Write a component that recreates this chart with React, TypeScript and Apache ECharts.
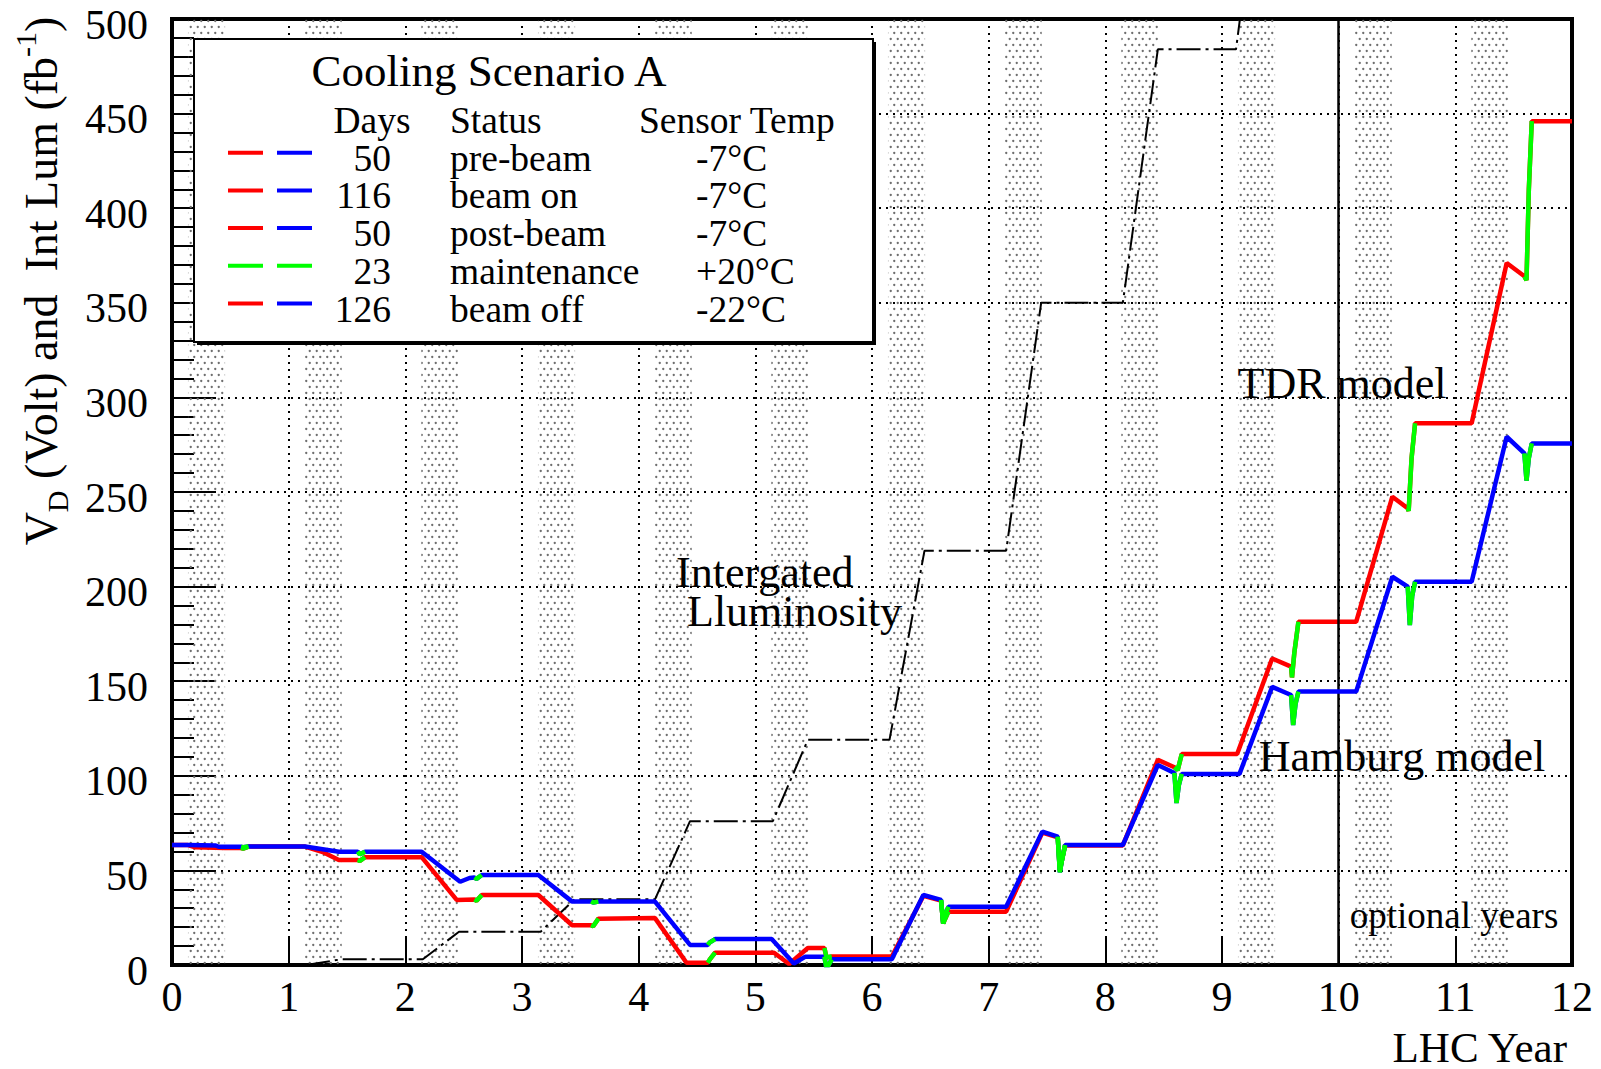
import React, { useEffect, useRef } from "react";
import * as echarts from "echarts";

const FONT = "'Liberation Serif', 'Times New Roman', serif";
const RED = "#ff0000";
const BLUE = "#0000ff";
const GREEN = "#00ff00";

// yearly LHC cycle, as listed in the legend
const phaseDays = [50, 116, 50, 23, 126];
const phaseStatus = ["pre-beam", "beam on", "post-beam", "maintenance", "beam off"];
const phaseTemp = ["-7°C", "-7°C", "-7°C", "+20°C", "-22°C"];
const phaseColorTdr = [RED, RED, RED, GREEN, RED];
const phaseColorHamburg = [BLUE, BLUE, BLUE, GREEN, BLUE];

const lhcYears = [0, 1, 2, 3, 4, 5, 6, 7, 8, 9, 10, 11];
const optionalYearStart = 10;

// depletion voltage, TDR model
const tdrModel: [number, number][] = [
  [0, 63.4], [0.137, 63.4], [0.2, 62.2], [0.455, 61.8], [0.592, 61.8], [0.61, 61.5], [0.655, 62.6],
  [1.14, 62.6], [1.3, 59.5], [1.43, 55.5], [1.592, 55.5], [1.61, 55], [1.655, 57],
  [2.14, 57], [2.44, 34.4], [2.592, 34.6], [2.61, 34], [2.655, 37],
  [3.14, 37], [3.43, 21], [3.592, 21], [3.61, 20.5], [3.655, 24.5],
  [4.14, 24.8], [4.41, 1.2], [4.592, 1.2], [4.61, 3], [4.655, 6.5],
  [5.16, 6.5], [5.29, 0.5], [5.45, 9], [5.592, 9], [5.61, 4], [5.655, 4.5],
  [6.17, 4.5], [6.44, 36.5], [6.592, 34], [6.61, 22], [6.655, 28.2],
  [7.15, 28.2], [7.46, 70], [7.592, 67.5], [7.61, 50], [7.655, 63.2],
  [8.15, 63.2], [8.45, 108.4], [8.592, 104.5], [8.62, 103], [8.655, 111.5],
  [9.13, 111.5], [9.43, 162], [9.592, 157.7], [9.6, 152], [9.62, 165], [9.655, 181.4],
  [10.15, 181.4], [10.46, 247.5], [10.592, 241.4], [10.6, 240], [10.625, 268], [10.655, 286.3],
  [11.14, 286.3], [11.44, 371], [11.592, 364], [11.61, 362], [11.63, 410], [11.655, 446],
  [12, 446],
];

// depletion voltage, Hamburg model
const hamburgModel: [number, number][] = [
  [0, 63.4], [0.137, 63.4], [0.37, 63.2], [0.4, 62.5], [0.455, 62.5], [0.592, 62.5], [0.61, 62.2], [0.655, 62.6],
  [1.14, 62.6], [1.43, 59.9], [1.592, 59.9], [1.61, 58.5], [1.655, 59.9],
  [2.14, 59.9], [2.47, 44], [2.55, 46], [2.592, 46.2], [2.61, 45.5], [2.655, 47.6],
  [3.14, 47.6], [3.43, 33.5], [3.592, 33.6], [3.61, 33], [3.655, 33.5],
  [4.14, 33.5], [4.44, 10.6], [4.592, 10.6], [4.61, 12], [4.655, 13.7],
  [5.14, 13.7], [5.33, 0.8], [5.43, 4.4], [5.592, 4.4], [5.61, -2], [5.655, 3],
  [6.17, 3], [6.44, 37], [6.592, 34.4], [6.61, 22], [6.63, 27], [6.655, 30.8],
  [7.15, 30.8], [7.46, 70.5], [7.592, 67.8], [7.61, 49], [7.63, 56], [7.655, 63.4],
  [8.15, 63.4], [8.45, 105.7], [8.592, 101.5], [8.61, 85.6], [8.63, 95], [8.655, 101],
  [9.15, 101], [9.43, 147], [9.592, 142.7], [9.61, 126.8], [9.63, 138], [9.655, 144.5],
  [10.15, 144.5], [10.46, 205.2], [10.592, 200], [10.61, 179.7], [10.63, 195], [10.655, 202.6],
  [11.14, 202.6], [11.44, 279.2], [11.592, 270.4], [11.61, 256], [11.63, 268], [11.655, 275.7],
  [12, 275.7],
];

// integrated luminosity (fb^-1)
const intLumi: [number, number][] = [
  [1.15, 0], [1.45, 3], [2.15, 3], [2.46, 17.6], [3.16, 17.6], [3.45, 34.7],
  [4.14, 34.7], [4.44, 76], [5.15, 76], [5.45, 119], [6.15, 119], [6.45, 219],
  [7.15, 219], [7.45, 350], [8.15, 350], [8.45, 484], [9.12, 484], [9.45, 640],
];

const maintStart = (phaseDays[0] + phaseDays[1] + phaseDays[2]) / 365;
const maintEnd = maintStart + phaseDays[3] / 365;
const beamStart = phaseDays[0] / 365;
const beamEnd = (phaseDays[0] + phaseDays[1]) / 365;

function maintenanceSegments(points: [number, number][]) {
  const out: any[] = [];
  let prevYear: number | null = null;
  for (const [x, y] of points) {
    const yr = Math.floor(x);
    const f = x - yr;
    if (f >= maintStart - 0.003 && f <= maintEnd + 0.003) {
      if (prevYear !== null && yr !== prevYear) out.push([yr, null]);
      out.push([x, y]);
      prevYear = yr;
    }
  }
  return out;
}

function makePattern() {
  const c = document.createElement("canvas");
  c.width = 7;
  c.height = 12;
  const ctx = c.getContext("2d")!;
  ctx.fillStyle = "#6e6e6e";
  ctx.beginPath();
  ctx.arc(1.75, 3, 1.15, 0, Math.PI * 2);
  ctx.fill();
  ctx.beginPath();
  ctx.arc(5.25, 9, 1.15, 0, Math.PI * 2);
  ctx.fill();
  return c.toDataURL("image/png");
}

export default function App() {
  const ref = useRef<HTMLDivElement>(null);
  useEffect(() => {
    if (!ref.current) return;
    const chart = echarts.init(ref.current, null, { renderer: "svg" });
    const pattern = { image: makePattern(), repeat: "repeat", imageWidth: 7, imageHeight: 12 };

    const txt = (text: string, x: number, y: number, size: number, align = "left", extra: any = {}) => ({
      type: "text",
      x,
      y,
      z: 20,
      style: {
        text,
        fontSize: size,
        fontFamily: FONT,
        fill: "#000",
        align,
        verticalAlign: "middle",
        ...extra,
      },
    });

    const legendTop = 39;
    const legendLeft = 194;
    const rowY0 = 158.2;
    const rowStep = 37.7;
    const legendEls: any[] = [
      { type: "rect", z: 18, shape: { x: legendLeft + 3, y: legendTop + 3, width: 679, height: 303 }, style: { fill: "#000" } },
      { type: "rect", z: 19, shape: { x: legendLeft, y: legendTop, width: 679, height: 303 }, style: { fill: "#fff", stroke: "#000", lineWidth: 2 } },
      txt("Cooling Scenario A", 489, 71, 45, "center"),
      txt("Days", 372, 120.5, 37.5, "center"),
      txt("Status", 450, 120.5, 37.5, "left"),
      txt("Sensor Temp", 639, 120.5, 37.5, "left"),
    ];
    phaseDays.forEach((d, i) => {
      const y = rowY0 + i * rowStep;
      legendEls.push(
        { type: "line", z: 20, shape: { x1: 228, y1: y - 5.5, x2: 263, y2: y - 5.5 }, style: { stroke: phaseColorTdr[i], lineWidth: 4 } },
        { type: "line", z: 20, shape: { x1: 277, y1: y - 5.5, x2: 312, y2: y - 5.5 }, style: { stroke: phaseColorHamburg[i], lineWidth: 4 } },
        txt(String(d), 391, y, 37.5, "right"),
        txt(phaseStatus[i], 450, y, 37.5, "left"),
        txt(phaseTemp[i], 696, y, 37.5, "left")
      );
    });

    const option: any = {
      animation: false,
      backgroundColor: "#fff",
      grid: {
        left: 172,
        right: 29,
        top: 19,
        bottom: 104,
        show: true,
        borderColor: "#000",
        borderWidth: 4,
        backgroundColor: "transparent",
        outerBoundsMode: "none",
        containLabel: false,
      },
      xAxis: {
        type: "value",
        min: 0,
        max: 12,
        interval: 1,
        axisLine: { show: true, onZero: false, lineStyle: { color: "#000", width: 4 } },
        axisTick: { show: true, inside: true, length: 27, lineStyle: { color: "#000", width: 2 } },
        minorTick: { show: false },
        axisLabel: { show: true, color: "#000", fontSize: 42, fontFamily: FONT, margin: 11, showMinLabel: true, showMaxLabel: true },
        splitLine: { show: true, lineStyle: { color: "#000", width: 2, type: [2, 5] } },
      },
      yAxis: {
        type: "value",
        min: 0,
        max: 500,
        interval: 50,
        axisLine: { show: true, onZero: false, lineStyle: { color: "#000", width: 4 } },
        axisTick: { show: true, inside: true, length: 43, lineStyle: { color: "#000", width: 2 } },
        minorTick: { show: true, splitNumber: 5, length: 22, lineStyle: { color: "#000", width: 2 } },
        axisLabel: {
          show: true,
          color: "#000",
          fontSize: 42,
          fontFamily: FONT,
          margin: 24,
          verticalAlign: "top",
          lineHeight: 11,
          showMinLabel: true,
          showMaxLabel: true,
        },
        splitLine: { show: true, lineStyle: { color: "#000", width: 2, type: [2, 5] } },
        minorSplitLine: { show: false },
      },
      series: [
        {
          type: "line",
          name: "Integrated Luminosity",
          data: intLumi,
          symbol: "none",
          showSymbol: false,
          clip: true,
          z: 3,
          lineStyle: { color: "#000", width: 2, type: [24, 5, 3, 5] },
          itemStyle: { color: "#000" },
          markArea: {
            silent: true,
            z: 1,
            itemStyle: { color: pattern, opacity: 1, borderWidth: 0 },
            data: lhcYears.map((n) => [{ xAxis: n + beamStart }, { xAxis: n + beamEnd }]),
          },
          markLine: {
            silent: true,
            symbol: ["none", "none"],
            label: { show: false },
            lineStyle: { color: "#000", width: 2.5, type: "solid" },
            data: [{ xAxis: optionalYearStart }],
          },
        },
        {
          type: "line",
          name: "TDR model",
          data: tdrModel,
          symbol: "none",
          showSymbol: false,
          z: 4,
          lineStyle: { color: RED, width: 4.5 },
          itemStyle: { color: RED },
        },
        {
          type: "line",
          name: "Hamburg model",
          data: hamburgModel,
          symbol: "none",
          showSymbol: false,
          z: 5,
          lineStyle: { color: BLUE, width: 4.5 },
          itemStyle: { color: BLUE },
        },
        {
          type: "line",
          name: "TDR maintenance",
          data: maintenanceSegments(tdrModel),
          symbol: "none",
          showSymbol: false,
          connectNulls: false,
          z: 6,
          lineStyle: { color: GREEN, width: 4.5 },
          itemStyle: { color: GREEN },
        },
        {
          type: "line",
          name: "Hamburg maintenance",
          data: maintenanceSegments(hamburgModel),
          symbol: "none",
          showSymbol: false,
          connectNulls: false,
          z: 6,
          lineStyle: { color: GREEN, width: 4.5 },
          itemStyle: { color: GREEN },
        },
      ],
      graphic: {
        elements: [
          ...legendEls,
          txt("TDR model", 1342, 383, 44, "center"),
          txt("Hamburg model", 1402, 756, 44, "center"),
          txt("Intergated\n Lluminosity", 676, 592, 44, "left", { lineHeight: 38.5 }),
          txt("optional years", 1454, 915, 37, "center"),
          txt("LHC Year", 1567, 1047, 43, "right"),
          {
            type: "text",
            x: 41,
            y: 281,
            rotation: Math.PI / 2,
            z: 20,
            style: {
              text: "{n|V}{sub|D}{n| (Volt) and  Int Lum (fb}{sup|-1}{n|)}",
              fontFamily: FONT,
              fill: "#000",
              align: "center",
              verticalAlign: "middle",
              rich: {
                n: { fontSize: 46, fontFamily: FONT, lineHeight: 62, verticalAlign: "middle", fill: "#000" },
                sub: { fontSize: 30, fontFamily: FONT, lineHeight: 30, verticalAlign: "bottom", fill: "#000" },
                sup: { fontSize: 30, fontFamily: FONT, lineHeight: 30, verticalAlign: "top", fill: "#000" },
              },
            },
          },
        ],
      },
    };
    chart.setOption(option);
    return () => chart.dispose();
  }, []);
  return (
    <div
      ref={ref}
      style={{ position: "fixed", left: 0, top: 0, width: 1601, height: 1069, background: "#fff" }}
    />
  );
}
